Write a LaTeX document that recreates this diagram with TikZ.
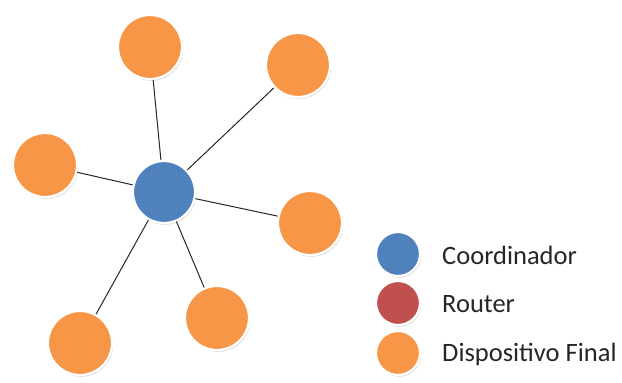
\documentclass[tikz,border=0pt]{standalone}
\usepackage{fontspec}
\setmainfont{Carlito}
\usetikzlibrary{shadows}
\definecolor{cCoord}{HTML}{4F81BD}
\definecolor{cRouter}{HTML}{C0504D}
\definecolor{cFinal}{HTML}{F79646}
\definecolor{cLine}{HTML}{262626}

\begin{document}
\begin{tikzpicture}[
    x=1pt, y=-1pt, font=\fontsize{26.5}{30}\selectfont,
    nodo/.style={circle, draw=white, line width=2.2pt, inner sep=0pt,
                 drop shadow={shadow xshift=1.2pt, shadow yshift=-1.8pt,
                              opacity=0.25}},
    coord/.style={nodo, fill=cCoord, minimum size=62pt},
    final/.style={nodo, fill=cFinal, minimum size=64pt},
    ley/.style={nodo, minimum size=44pt},
    enlace/.style={draw=cLine, line width=1pt},
    lbl/.style={anchor=west, inner sep=0pt, text=black!85},
]
\useasboundingbox (0,0) rectangle (622,383);

% ===========================================================================
% Topologia en estrella
% ===========================================================================
\node[coord] (c) at (164,192) {};

% ----- Dispositivos finales alrededor del coordinador -----
\foreach \x/\y/\n in {150/47/1, 298/65/2, 45/165/3, 310/223/4,
                      217/318/5, 80/343/6} {
    \node[final] (f\n) at (\x,\y) {};
}

% ----- Enlaces -----
\foreach \n in {1,...,6} {
    \draw[enlace] (c) -- (f\n);
}

% ===========================================================================
% Leyenda
% ===========================================================================
\node[ley, fill=cCoord] (lc) at (398,254) {};
\node[ley, fill=cRouter] (lr) at (398,303) {};
\node[ley, fill=cFinal] (lf) at (398,353) {};
\node[lbl] at (442,255) {Coordinador};
\node[lbl] at (442,304) {Router};
\node[lbl] at (442,354) {Dispositivo Final};

\end{tikzpicture}
\end{document}
